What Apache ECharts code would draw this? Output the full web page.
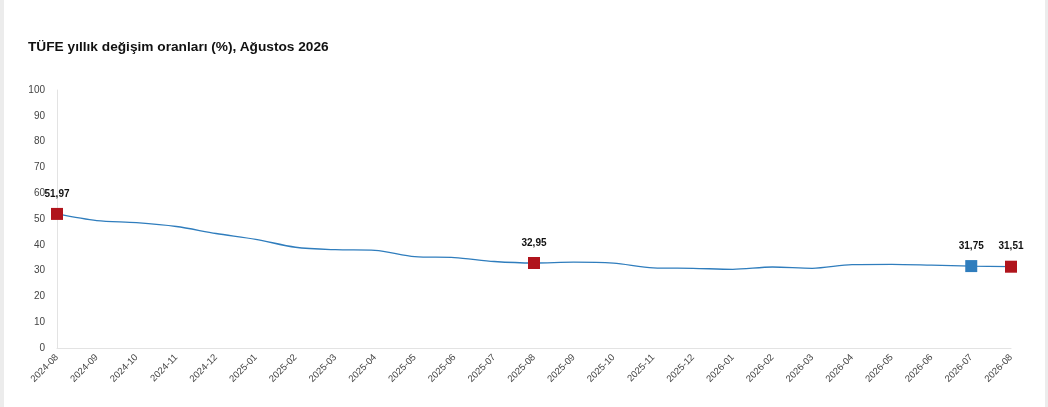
<!DOCTYPE html>
<html>
<head>
<meta charset="utf-8">
<script src="https://cdn.jsdelivr.net/npm/echarts@6/dist/echarts.min.js"></script>
<style>
  html, body { margin: 0; padding: 0; background: #ececec; }
  #wrap { position: absolute; left: 4px; top: 0; width: 1041px; height: 407px; background: #fff; }
  #title { position: absolute; left: 24px; top: 39px; font: bold 13.7px "Liberation Sans", Arial, sans-serif; color: #111; }
  #chart { position: absolute; left: 0; top: 0; width: 1041px; height: 407px; }
</style>
</head>
<body>
<div id="wrap">
  <div id="chart"></div>
  <div id="title">TÜFE yıllık değişim oranları (%), Ağustos 2026</div>
</div>
<script>
"use strict";

const months = [
  "2024-08", "2024-09", "2024-10", "2024-11", "2024-12",
  "2025-01", "2025-02", "2025-03", "2025-04", "2025-05", "2025-06", "2025-07",
  "2025-08", "2025-09", "2025-10", "2025-11", "2025-12",
  "2026-01", "2026-02", "2026-03", "2026-04", "2026-05", "2026-06", "2026-07",
  "2026-08",
];

const values = [
  51.97, 49.38, 48.58, 47.09, 44.38,
  42.12, 39.05, 38.10, 37.86, 35.41, 35.05, 33.52,
  32.95, 33.29, 32.87, 31.07, 30.89,
  30.5, 31.4, 30.9, 32.3, 32.4, 32.1, 31.75,
  31.51,
];

// months that get a square marker + label
const highlightMonths = ["2024-08", "2025-08", "2026-07", "2026-08"];
const highlightColors = ["#b0141c", "#b0141c", "#2f7dbd", "#b0141c"];

const fmt = (v) => v.toFixed(2).replace(".", ",");

const chart = echarts.init(document.getElementById("chart"));

const seriesData = values.map((v, i) => {
  const h = highlightMonths.indexOf(months[i]);
  if (h < 0) return v;
  return {
    value: v,
    symbol: "rect",
    symbolSize: 12,
    itemStyle: { color: highlightColors[h] },
    label: {
      show: true,
      position: "top",
      distance: 9,
      formatter: (p) => fmt(p.value),
      color: "#111",
      fontSize: 10,
      fontWeight: "bold",
      fontFamily: "Liberation Sans, Arial, sans-serif",
    },
  };
});

chart.setOption({
  animation: false,
  backgroundColor: "#fff",
  grid: { left: 53, right: 34, top: 90, bottom: 59 },
  xAxis: {
    type: "category",
    data: months,
    boundaryGap: false,
    axisLine: { lineStyle: { color: "#e3e3e3" } },
    axisTick: { show: false },
    axisLabel: {
      rotate: 45,
      interval: 0,
      color: "#444",
      fontSize: 9.5,
      margin: 8,
      fontFamily: "Liberation Sans, Arial, sans-serif",
    },
    splitLine: { show: false },
  },
  yAxis: {
    type: "value",
    min: 0,
    max: 100,
    interval: 10,
    axisLine: { show: true, lineStyle: { color: "#e3e3e3" } },
    axisTick: { show: false },
    axisLabel: {
      color: "#444",
      fontSize: 10,
      margin: 12,
      fontFamily: "Liberation Sans, Arial, sans-serif",
    },
    splitLine: { show: false },
  },
  series: [
    {
      type: "line",
      data: seriesData,
      smooth: 0.3,
      symbol: "none",
      showSymbol: true,
      lineStyle: { color: "#2f7dbd", width: 1.3 },
      itemStyle: { color: "#2f7dbd" },
      label: { show: false },
      z: 3,
    },
  ],
});
</script>
</body>
</html>
